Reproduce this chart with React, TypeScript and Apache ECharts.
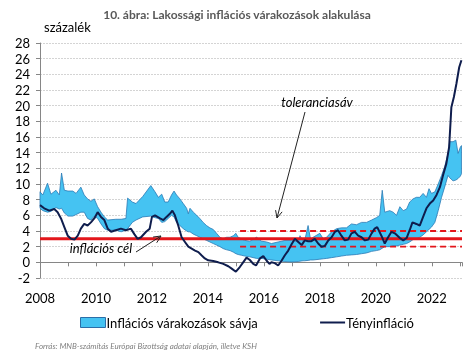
import React, { useEffect, useRef } from "react";
import * as echarts from "echarts";

// Band of household inflation expectations (decimal year, lower, upper), percent
const bandX = [
  2008.0, 2008.1, 2008.27, 2008.39, 2008.57, 2008.69, 2008.77, 2008.87, 2009.0, 2009.17,
  2009.29, 2009.46, 2009.58, 2009.7, 2009.82, 2009.94, 2010.06, 2010.18, 2010.3, 2010.42,
  2010.71, 2010.9, 2011.07, 2011.13, 2011.3, 2011.43, 2011.67, 2011.96, 2012.11, 2012.23,
  2012.35, 2012.46, 2012.58, 2012.7, 2012.79, 2012.88, 2013.0, 2013.12, 2013.24, 2013.3,
  2013.36, 2013.48, 2013.6, 2013.71, 2013.83, 2013.95, 2014.07, 2014.19, 2014.31, 2014.43,
  2014.55, 2014.67, 2014.79, 2014.91, 2015.0, 2015.08, 2015.2, 2015.32, 2015.5, 2015.74,
  2015.92, 2016.1, 2016.27, 2016.51, 2016.75, 2016.99, 2017.23, 2017.29, 2017.4, 2017.46,
  2017.58, 2017.67, 2017.76, 2018.0, 2018.12, 2018.24, 2018.42, 2018.6, 2018.77, 2018.95,
  2019.13, 2019.31, 2019.49, 2019.67, 2019.85, 2020.02, 2020.14, 2020.23, 2020.32, 2020.5,
  2020.62, 2020.74, 2020.86, 2020.98, 2021.1, 2021.21, 2021.33, 2021.45, 2021.57, 2021.69,
  2021.81, 2021.9, 2021.99, 2022.11, 2022.23, 2022.35, 2022.46, 2022.58, 2022.64, 2022.76,
  2022.86, 2022.94, 2023.02, 2023.06,
];
const bandLow = [
  6.9, 6.6, 6.4, 6.5, 7.0, 6.8, 6.9, 6.3, 5.9, 5.9,
  6.1, 6.4, 6.4, 5.6, 5.4, 5.9, 5.6, 4.9, 4.3, 4.1,
  4.1, 3.9, 4.1, 4.3, 5.1, 5.4, 5.8, 5.9, 5.7, 5.6,
  5.1, 5.2, 5.6, 6.0, 5.8, 5.1, 4.7, 4.3, 4.0, 3.9,
  3.9, 3.6, 3.4, 3.2, 3.0, 2.8, 2.6, 2.4, 2.2, 2.0,
  1.75, 1.6, 1.5, 1.3, 1.1, 1.0, 0.9, 0.8, 0.7, 0.5,
  0.5, 0.4, 0.3, 0.2, 0.1, 0.05, 0.1, 0.15, 0.2, 0.2,
  0.25, 0.3, 0.3, 0.4, 0.45, 0.5, 0.6, 0.7, 0.8, 0.9,
  0.95, 1.0, 1.1, 1.2, 1.4, 1.5, 1.6, 1.8, 2.0, 2.0,
  2.1, 2.1, 2.2, 2.3, 2.4, 2.6, 2.9, 3.0, 3.2, 3.5,
  3.9, 4.2, 4.5, 5.1, 6.6, 8.3, 9.6, 11.1, 10.8, 10.4,
  10.5, 10.7, 11.0, 11.3,
];
const bandHigh = [
  9.0, 8.6, 10.1, 8.7, 9.2, 8.6, 11.4, 9.2, 9.1, 9.1,
  8.8, 9.6, 8.6, 8.1, 7.8, 8.1, 7.1, 6.4, 5.8, 5.4,
  5.5, 5.5, 5.6, 8.2, 7.7, 7.5, 8.4, 9.8, 9.0, 8.3,
  8.7, 7.7, 7.7, 8.6, 9.1, 8.6, 8.1, 7.5, 6.9, 6.2,
  6.9, 6.4, 6.0, 5.6, 5.1, 4.7, 4.4, 4.2, 3.7, 3.2,
  3.0, 3.2, 3.2, 3.4, 3.7, 3.2, 3.0, 2.8, 2.7, 3.2,
  2.7, 2.6, 2.4, 2.6, 2.8, 2.8, 2.6, 3.4, 2.7, 2.8,
  4.7, 2.9, 3.2, 3.7, 3.0, 3.2, 3.9, 4.3, 4.4, 4.4,
  4.9, 4.8, 5.1, 5.1, 5.4, 5.7, 6.0, 9.2, 6.4, 6.6,
  6.4, 6.0, 7.1, 6.6, 6.8, 7.7, 8.1, 8.3, 8.3, 8.8,
  8.3, 9.4, 8.8, 9.0, 10.0, 11.1, 12.2, 13.9, 15.4, 15.4,
  15.6, 13.9, 14.7, 14.9,
];

// Actual CPI inflation (decimal year, percent)
const inflX = [
  2008.0, 2008.15, 2008.33, 2008.51, 2008.63, 2008.75, 2008.87, 2008.99, 2009.11, 2009.23,
  2009.35, 2009.46, 2009.58, 2009.7, 2009.82, 2009.94, 2010.06, 2010.18, 2010.3, 2010.42,
  2010.54, 2010.71, 2010.89, 2011.07, 2011.25, 2011.37, 2011.49, 2011.61, 2011.79, 2011.92,
  2012.0, 2012.11, 2012.29, 2012.41, 2012.52, 2012.64, 2012.73, 2012.82, 2012.94, 2013.06,
  2013.18, 2013.3, 2013.42, 2013.54, 2013.66, 2013.77, 2013.89, 2014.01, 2014.19, 2014.37,
  2014.55, 2014.73, 2014.85, 2015.0, 2015.14, 2015.26, 2015.38, 2015.5, 2015.62, 2015.72,
  2015.86, 2015.98, 2016.1, 2016.2, 2016.27, 2016.39, 2016.51, 2016.63, 2016.75, 2016.87,
  2016.99, 2017.11, 2017.23, 2017.35, 2017.46, 2017.58, 2017.7, 2017.82, 2017.94, 2018.06,
  2018.18, 2018.3, 2018.42, 2018.54, 2018.65, 2018.77, 2018.89, 2019.01, 2019.13, 2019.25,
  2019.37, 2019.49, 2019.61, 2019.73, 2019.85, 2019.96, 2020.05, 2020.2, 2020.32, 2020.44,
  2020.56, 2020.68, 2020.86, 2020.98, 2021.1, 2021.21, 2021.31, 2021.45, 2021.57, 2021.69,
  2021.81, 2021.93, 2022.05, 2022.17, 2022.29, 2022.4, 2022.52, 2022.62, 2022.7, 2022.79,
  2022.88, 2022.98, 2023.06,
];
const inflY = [
  7.3, 6.9, 6.6, 6.8, 6.4, 5.6, 4.5, 3.4, 3.0, 2.9,
  3.4, 4.3, 4.9, 4.7, 5.1, 5.6, 6.4, 5.8, 5.4, 4.3,
  3.9, 4.1, 4.3, 4.1, 4.3, 3.6, 3.0, 3.2, 3.9, 4.3,
  5.8, 6.0, 5.6, 5.4, 5.8, 6.2, 6.6, 6.0, 4.7, 3.2,
  2.6, 2.0, 1.75, 1.5, 1.3, 0.9, 0.5, 0.26, 0.17, 0.0,
  -0.2, -0.5, -0.8, -1.2, -0.6, 0.0, 0.6, 0.3, -0.2, -0.4,
  0.5, 0.8, 0.2, -0.2, 0.0, -0.1, -0.4, 0.2, 0.9, 1.5,
  2.3, 3.0, 2.6, 2.2, 2.8, 2.7, 2.7, 3.0, 2.4, 2.0,
  2.1, 2.8, 3.2, 3.9, 4.1, 3.4, 2.8, 2.9, 3.7, 3.9,
  3.4, 3.2, 2.8, 2.9, 3.7, 4.3, 4.5, 3.4, 2.4, 3.2,
  3.9, 3.7, 3.1, 2.8, 3.1, 4.1, 5.1, 4.9, 4.7, 5.8,
  6.9, 7.5, 7.9, 8.6, 9.6, 11.1, 12.6, 14.7, 19.8, 21.1,
  22.8, 24.9, 25.8,
];

const targetValue = 3;
const tolLow = 2;
const tolHigh = 4;
const tolStart = 2015.15;
const xMin = 2008;
const xMax = 2023.08;

const FONT = "Lato, 'Open Sans', sans-serif";
const BAND_NAME = "Inflációs várakozások sávja";
const INFL_NAME = "Tényinfláció";

function arrow(x1: number, y1: number, x2: number, y2: number) {
  const dx = x2 - x1;
  const dy = y2 - y1;
  const len = Math.sqrt(dx * dx + dy * dy);
  const bx = -dx / len;
  const by = -dy / len;
  const a = (25 * Math.PI) / 180;
  const L = 8;
  const p1 = [x2 + L * (bx * Math.cos(a) - by * Math.sin(a)), y2 + L * (bx * Math.sin(a) + by * Math.cos(a))];
  const p2 = [x2 + L * (bx * Math.cos(a) + by * Math.sin(a)), y2 + L * (-bx * Math.sin(a) + by * Math.cos(a))];
  const style = { stroke: "#222", lineWidth: 1, fill: "none" };
  return [
    { type: "line", shape: { x1, y1, x2, y2 }, style, z: 50 },
    { type: "polyline", shape: { points: [p1, [x2, y2], p2] }, style, z: 50 },
  ];
}

export default function App() {
  const ref = useRef<HTMLDivElement>(null);
  useEffect(() => {
    const chart = echarts.init(ref.current!, null, { renderer: "svg" });
    const option: any = {
      animation: false,
      textStyle: { fontFamily: FONT },
      title: {
        text: "10. ábra: Lakossági inflációs várakozások alakulása",
        left: "center",
        top: 3,
        textStyle: { fontSize: 12, fontWeight: "bold", color: "#595959", fontFamily: FONT },
      },
      grid: { left: 40, right: 12, top: 43, bottom: 86, containLabel: false },
      legend: {
        left: 75,
        top: 311,
        itemGap: 62,
        itemWidth: 25,
        itemHeight: 10,
        textStyle: { fontSize: 13, color: "#000", fontFamily: FONT, padding: [0, 0, 0, -4] },
        data: [
          { name: BAND_NAME, icon: "rect", itemStyle: { color: "#45c3f2", borderColor: "#2b6ea8", borderWidth: 1 } },
          { name: INFL_NAME, icon: "path://M0 0 H25 V2 H0 Z", itemStyle: { color: "#0f1d4d" } },
        ],
      },
      xAxis: {
        type: "value",
        min: xMin,
        max: xMax,
        interval: 1,
        axisLine: { onZero: true, lineStyle: { color: "#868686", width: 1 } },
        axisTick: { show: true, length: 4, lineStyle: { color: "#868686" } },
        axisLabel: {
          margin: 13,
          fontSize: 13,
          color: "#000",
          fontFamily: FONT,
          formatter: (v: number) => (Number.isInteger(v) && v % 2 === 0 ? String(v) : ""),
        },
        splitLine: { show: false },
      },
      yAxis: {
        type: "value",
        min: -2,
        max: 28,
        interval: 2,
        axisLine: { show: true, lineStyle: { color: "#868686" } },
        axisTick: { show: true, inside: false, length: 4, lineStyle: { color: "#868686" } },
        axisLabel: { margin: 10, fontSize: 13, color: "#000", fontFamily: FONT },
        splitLine: { show: true, lineStyle: { color: "#d4d4d4", type: [2, 1], width: 1 } },
      },
      series: [
        {
          type: "custom",
          name: BAND_NAME,
          z: 1,
          silent: true,
          itemStyle: { color: "#45c3f2", borderColor: "#2b6ea8" },
          data: [[bandX[0], bandLow[0]]],
          renderItem: (params: any, api: any) => {
            const pts: number[][] = [];
            for (let i = 0; i < bandX.length; i++) pts.push(api.coord([bandX[i], bandHigh[i]]));
            for (let i = bandX.length - 1; i >= 0; i--) pts.push(api.coord([bandX[i], bandLow[i]]));
            return {
              type: "polygon",
              shape: { points: pts },
              style: { fill: "#45c3f2", stroke: "#2b7ab5", lineWidth: 0.8 },
            };
          },
        },
        {
          type: "line",
          name: "target",
          z: 3,
          silent: true,
          symbol: "none",
          lineStyle: { color: "#e3161b", width: 3 },
          data: [[xMin, targetValue], [xMax, targetValue]],
        },
        {
          type: "line",
          name: "tolHigh",
          z: 3,
          silent: true,
          symbol: "none",
          lineStyle: { color: "#e3161b", width: 1.8, type: [6, 4] },
          data: [[tolStart, tolHigh], [xMax, tolHigh]],
        },
        {
          type: "line",
          name: "tolLow",
          z: 3,
          silent: true,
          symbol: "none",
          lineStyle: { color: "#e3161b", width: 1.8, type: [6, 4] },
          data: [[tolStart, tolLow], [xMax, tolLow]],
        },
        {
          type: "line",
          name: INFL_NAME,
          z: 4,
          silent: true,
          symbol: "none",
          itemStyle: { color: "#0f1d4d" },
          lineStyle: { color: "#0f1d4d", width: 2 },
          data: inflX.map((x, i) => [x, inflY[i]]),
        },
      ],
      graphic: [
        {
          type: "text",
          left: 44,
          top: 20,
          style: { text: "százalék", fontSize: 13, fill: "#000", fontFamily: FONT },
        },
        {
          type: "text",
          x: 317,
          y: 102,
          style: {
            text: "toleranciasáv",
            fontSize: 13,
            fontStyle: "italic",
            fill: "#000",
            fontFamily: FONT,
            align: "center",
            verticalAlign: "middle",
          },
          z: 50,
        },
        {
          type: "text",
          x: 101,
          y: 248,
          style: {
            text: "inflációs cél",
            fontSize: 13,
            fontStyle: "italic",
            fill: "#000",
            fontFamily: FONT,
            align: "center",
            verticalAlign: "middle",
          },
          z: 50,
        },
        ...arrow(305, 112, 277, 218),
        ...arrow(136, 252, 161, 236),
        {
          type: "text",
          left: 35,
          top: 342,
          style: {
            text: "Forrás: MNB-számítás Európai Bizottság adatai alapján, illetve KSH",
            fontSize: 8,
            fontStyle: "italic",
            fill: "#7f7f7f",
            fontFamily: FONT,
          },
        },
      ],
    };
    chart.setOption(option);
    return () => chart.dispose();
  }, []);
  return <div ref={ref} style={{ position: "fixed", left: 0, top: 0, width: 474, height: 364 }} />;
}
